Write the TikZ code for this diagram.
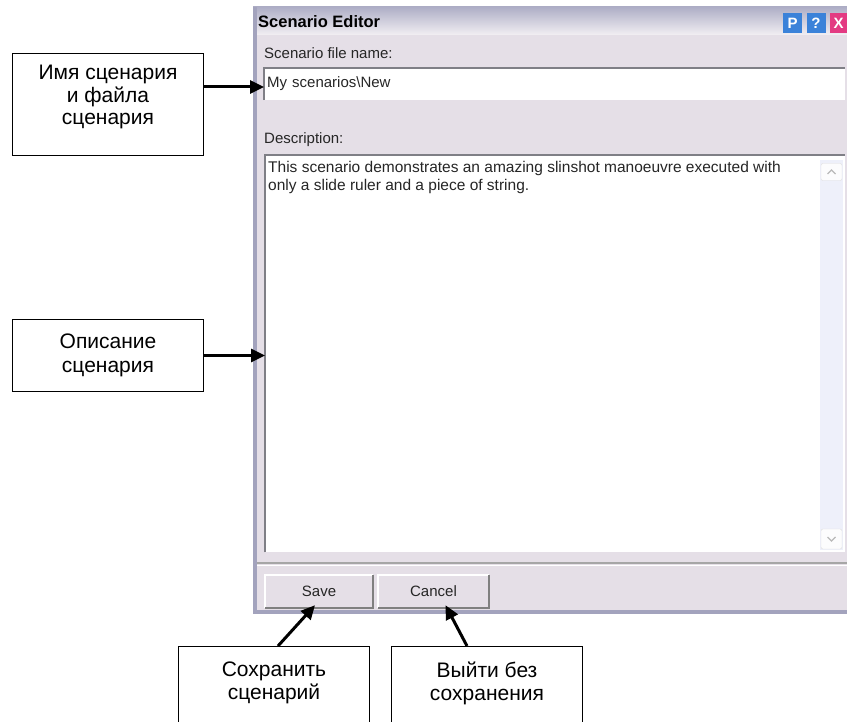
\documentclass[tikz,border=0pt]{standalone}
\usepackage{fontspec}
\setmainfont{Liberation Sans}
\usetikzlibrary{positioning,arrows.meta}

\definecolor{dlgface}{HTML}{E5DFE7}
\definecolor{dlgframe}{HTML}{A3A3BD}
\definecolor{dlgtitle}{HTML}{AEAEC6}
\definecolor{dlgedge}{HTML}{7F7F86}
\definecolor{helpblue}{HTML}{3B82D9}
\definecolor{closered}{HTML}{E33A82}
\definecolor{scrolltrack}{HTML}{EEF0FA}

\begin{document}
\begin{tikzpicture}[x=1pt,y=-1pt,
    callout/.style={draw,line width=1pt,minimum width=191pt,inner sep=0pt,
      align=center,font=\fontsize{21}{23.5}\selectfont},
    callout label/.style={anchor=north,yshift=-12pt,align=center,inner sep=0pt,
      font=\fontsize{21}{22.5}\selectfont},
    pointer/.style={line width=3pt,-{Triangle[length=14pt,width=13pt]}},
    dlgtext/.style={inner sep=0pt,text=black!85,font=\fontsize{15}{18}\selectfont},
    winbutton/.style={dlgtext,fill=dlgface,minimum height=33pt},
    titlebtn/.style={minimum width=19pt,minimum height=20pt,inner sep=0pt,
      text=white,font=\fontsize{15}{15}\selectfont\bfseries}]

  \useasboundingbox (0,0) rectangle (847,722);

  % dialog window
  \fill[dlgface] (253,7) rectangle (847,614);
  \shade[top color=dlgtitle,bottom color=dlgface!50!white] (253,7) rectangle (847,35);
  \fill[dlgframe] (253,7) rectangle (257,614);
  \fill[dlgframe] (253,610) rectangle (847,614);

  \node[anchor=west,inner sep=0pt,font=\fontsize{16.5}{17}\selectfont\bfseries] (title) at (258,22) {Scenario Editor};
  \node[titlebtn,fill=helpblue] (pbtn) at (792.5,23) {P};
  \node[titlebtn,fill=helpblue] (qbtn) at (816,23) {?};
  \node[titlebtn,fill=closered,minimum width=17pt] (xbtn) at (838.5,23) {X};

  \node[dlgtext,anchor=west] (namelbl) at (264,53) {Scenario file name:};
  \node[dlgtext,anchor=west,fill=white,minimum height=32pt,text width=575pt,inner xsep=3pt] (filefield) at (264,84) {My scenarios\textbackslash New};
  \draw[dlgedge,line width=1.5pt] (filefield.south west) |- (filefield.north east);

  \node[dlgtext,anchor=west] (desclbl) at (264,140) {Description:};
  \node[fill=white,minimum width=580pt,minimum height=397pt,inner sep=0pt,anchor=north west] (descarea) at (265,155) {};
  \draw[dlgedge,line width=1.5pt] (descarea.south west) |- (descarea.north east);
  \node[dlgtext,anchor=north west,align=left,font=\fontsize{15.5}{18.5}\selectfont] (desctext) at ([shift={(3,6)}]descarea.north west)
    {This scenario demonstrates an amazing slinshot manoeuvre executed with\\only a slide ruler and a piece of string.};

  % scroll bar
  \fill[scrolltrack] (820,160) rectangle (843,550);
  \node[draw=gray!25,fill=white!90!dlgface,rounded corners=2pt,minimum width=21pt,minimum height=17pt] (scrollup) at (831.5,172) {};
  \node[draw=gray!25,fill=white!90!dlgface,rounded corners=2pt,minimum width=21pt,minimum height=20pt] (scrolldown) at (831.5,539) {};
  \draw[gray!55,line width=1.2pt] ([shift={(-4,2)}]scrollup.center) -- ([shift={(0,-2)}]scrollup.center) -- ([shift={(4,2)}]scrollup.center);
  \draw[gray!55,line width=1.2pt] ([shift={(-4,-2)}]scrolldown.center) -- ([shift={(0,2)}]scrolldown.center) -- ([shift={(4,-2)}]scrolldown.center);

  \draw[gray!70,line width=1.5pt] (257,563) -- (847,563);
  \draw[white,line width=1pt] (257,565) -- (847,565);

  % buttons
  \node[winbutton,minimum width=108pt] (savebtn) at (319,591.5) {Save};
  \node[winbutton,minimum width=111pt] (cancelbtn) at (433.5,591.5) {Cancel};
  \draw[white,line width=1.5pt] (savebtn.south west) |- (savebtn.north east);
  \draw[gray,line width=1.5pt] (savebtn.north east) |- (savebtn.south west);
  \draw[white,line width=1.5pt] (cancelbtn.south west) |- (cancelbtn.north east);
  \draw[gray,line width=1.5pt] (cancelbtn.north east) |- (cancelbtn.south west);

  % callouts
  \node[callout,minimum height=102pt,anchor=north west,
    label={[callout label]north:Имя сценария\\и файла\\сценария}] (namebox) at (12,53) {};
  \node[callout,minimum height=72pt,anchor=north west] (descbox) at (12,319) {Описание\\сценария};
  \node[callout,minimum height=100pt,anchor=north west,
    label={[callout label,yshift=-4pt]north:Сохранить\\сценарий}] (savebox) at (178,646) {};
  \node[callout,minimum height=100pt,anchor=north west,
    label={[callout label,yshift=-4pt]north:Выйти без\\сохранения}] (cancelbox) at (391,646) {};

  \path[pointer]
    (namebox.east |- 0,87) edge (filefield.west |- 0,87)
    (descbox.east) edge (descarea.west |- descbox.east)
    ([xshift=4pt]savebox.north) edge ([xshift=-4pt,yshift=3pt]savebtn.south)
    ([xshift=-20pt]cancelbox.north) edge ([xshift=12pt,yshift=3pt]cancelbtn.south);
\end{tikzpicture}
\end{document}
